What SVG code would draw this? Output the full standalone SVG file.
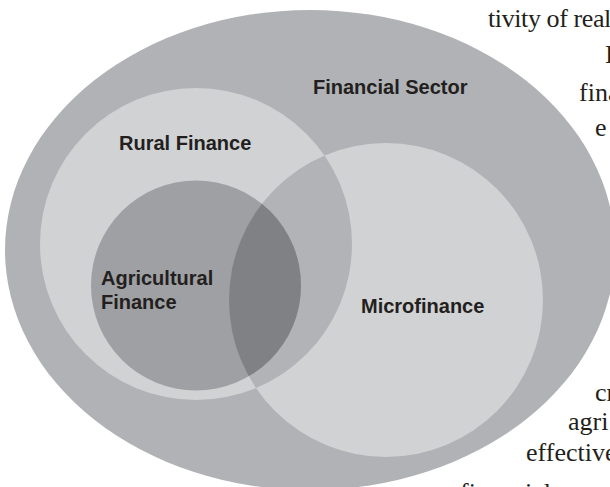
<svg xmlns="http://www.w3.org/2000/svg" width="610" height="487" viewBox="0 0 610 487">
<style>
.lbl{font-family:"Liberation Sans",Arial,sans-serif;font-weight:bold;font-size:20px;fill:#231f20}
.page{font-family:"Liberation Serif","Times New Roman",serif;font-size:26px;fill:#231f20}
.outer{fill:#b1b2b5}
.light{fill:#d1d2d4}
.mid{fill:#b2b3b6}
.agri{fill:#9fa0a3}
.dark{fill:#808185}
</style>
<defs>
<clipPath id="clipRural"><circle cx="196" cy="244" r="156"/></clipPath>
<clipPath id="clipAgri"><circle cx="196" cy="285.5" r="105"/></clipPath>
</defs>
<rect width="610" height="487" fill="#ffffff"/>
<g id="financial-sector">
<ellipse class="outer" cx="310" cy="250" rx="305" ry="240"/>
<text class="lbl" x="313" y="94">Financial Sector</text>
</g>
<g id="rural-finance">
<circle class="light" cx="196" cy="244" r="156"/>
<text class="lbl" x="119" y="150">Rural Finance</text>
</g>
<g id="microfinance">
<circle class="light" cx="386" cy="300" r="157"/>
<circle class="mid" cx="386" cy="300" r="157" clip-path="url(#clipRural)"/>
<text class="lbl" x="361" y="313">Microfinance</text>
</g>
<g id="agricultural-finance">
<circle class="agri" cx="196" cy="285.5" r="105"/>
<circle class="dark" cx="386" cy="300" r="157" clip-path="url(#clipAgri)"/>
<text class="lbl" x="101" y="285" font-size="20.5">Agricultural</text>
<text class="lbl" x="101" y="309" font-size="20.5">Finance</text>
</g>
<g id="connectors"/>
<g id="page-text">
<text class="page" x="488" y="27" letter-spacing="-0.4">tivity of real</text>
<text class="page" x="605" y="63">I</text>
<text class="page" x="579" y="101">fina</text>
<text class="page" x="595" y="136">e</text>
<text class="page" x="595" y="401">cr</text>
<text class="page" x="568" y="430">agri</text>
<text class="page" x="526" y="461">effective</text>
<text class="page" x="460" y="501">financial</text>
</g>
</svg>
